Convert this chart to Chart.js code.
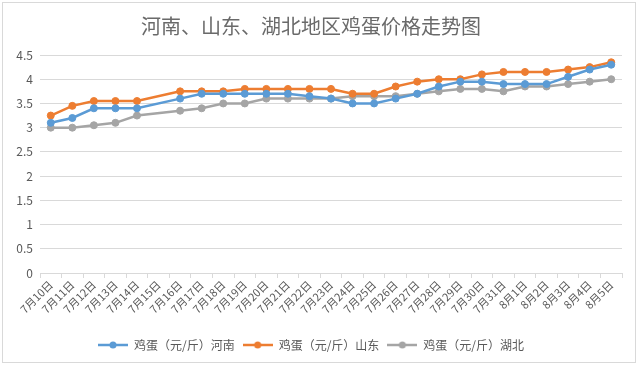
<!DOCTYPE html>
<html>
<head>
<meta charset="utf-8">
<script src="https://cdn.jsdelivr.net/npm/chart.js@4"></script>
<style>
  html, body { margin: 0; padding: 0; background: #fff; }
  #wrap { width: 640px; height: 367px; position: relative; }
</style>
</head>
<body>
<div id="wrap"><canvas id="eggChart" width="640" height="367"></canvas></div>
<script>
// 日期（7月15日无数据）
const days = ['7月10日', '7月11日', '7月12日', '7月13日', '7月14日', '7月15日', '7月16日', '7月17日', '7月18日',
    '7月19日', '7月20日', '7月21日', '7月22日', '7月23日', '7月24日', '7月25日', '7月26日', '7月27日', '7月28日',
    '7月29日', '7月30日', '7月31日', '8月1日', '8月2日', '8月3日', '8月4日', '8月5日'];

const henan = [3.1, 3.2, 3.4, 3.4, 3.4, null, 3.6, 3.7, 3.7, 3.7, 3.7, 3.7, 3.65, 3.6, 3.5, 3.5, 3.6, 3.7, 3.85,
    3.95, 3.95, 3.9, 3.9, 3.9, 4.05, 4.2, 4.3];
const shandong = [3.25, 3.45, 3.55, 3.55, 3.55, null, 3.75, 3.75, 3.75, 3.8, 3.8, 3.8, 3.8, 3.8, 3.7, 3.7, 3.85, 3.95, 4.0,
    4.0, 4.1, 4.15, 4.15, 4.15, 4.2, 4.25, 4.35];
const hubei = [3.0, 3.0, 3.05, 3.1, 3.25, null, 3.35, 3.4, 3.5, 3.5, 3.6, 3.6, 3.6, 3.6, 3.65, 3.65, 3.65, 3.7, 3.75,
    3.8, 3.8, 3.75, 3.85, 3.85, 3.9, 3.95, 4.0];

const seriesNames = ['鸡蛋（元/斤）河南', '鸡蛋（元/斤）山东', '鸡蛋（元/斤）湖北'];
const seriesColors = ['#5B9BD5', '#ED7D31', '#A5A5A5'];

const FONT = '"Noto Sans CJK SC", "Noto Sans", sans-serif';
const TEXT = '#595959';

// legend marker: short line with a dot, like Excel
function legendMarker(color) {
    const c = document.createElement('canvas');
    c.width = 30; c.height = 10;
    const g = c.getContext('2d');
    g.strokeStyle = color;
    g.lineWidth = 2.5;
    g.beginPath(); g.moveTo(0, 5); g.lineTo(30, 5); g.stroke();
    g.fillStyle = color;
    g.beginPath(); g.arc(15, 5, 3.5, 0, Math.PI * 2); g.fill();
    return c;
}

const frame = {
    id: 'frame',
    beforeDraw(chart) {
        const ctx = chart.ctx;
        ctx.save();
        ctx.fillStyle = '#fff';
        ctx.fillRect(0, 0, chart.width, chart.height);
        ctx.strokeStyle = '#D9D9D9';
        ctx.lineWidth = 1;
        ctx.strokeRect(2.5, 2.5, 633, 360);
        ctx.restore();
    }
};

function makeSet(i, values) {
    return {
        label: seriesNames[i],
        data: values,
        borderColor: seriesColors[i],
        backgroundColor: seriesColors[i],
        borderWidth: 2.5,
        pointRadius: 3.5,
        pointHoverRadius: 3.5,
        pointBorderWidth: 1,
        spanGaps: true,
        tension: 0
    };
}

new Chart(document.getElementById('eggChart'), {
    type: 'line',
    data: {
        labels: days,
        datasets: [makeSet(0, henan), makeSet(1, shandong), makeSet(2, hubei)]
    },
    options: {
        responsive: false,
        animation: false,
        layout: { padding: { left: 0, right: 18, top: 0, bottom: 6 } },
        plugins: {
            title: {
                display: true,
                text: '河南、山东、湖北地区鸡蛋价格走势图',
                color: '#6a6a6a',
                font: { family: FONT, size: 20, weight: 'normal' },
                padding: { top: 14, bottom: 17 }
            },
            legend: {
                position: 'bottom',
                labels: {
                    color: TEXT,
                    font: { family: FONT, size: 12 },
                    usePointStyle: true,
                    pointStyleWidth: 30,
                    padding: 8,
                    generateLabels(chart) {
                        return chart.data.datasets.map((ds, i) => ({
                            text: ds.label,
                            fontColor: TEXT,
                            pointStyle: legendMarker(seriesColors[i]),
                            strokeStyle: seriesColors[i],
                            fillStyle: seriesColors[i],
                            lineWidth: 0,
                            datasetIndex: i
                        }));
                    }
                }
            },
            tooltip: { enabled: false }
        },
        scales: {
            x: {
                offset: true,
                grid: {
                    display: true,
                    drawOnChartArea: false,
                    drawTicks: true,
                    tickLength: 5,
                    offset: true,
                    color: '#D9D9D9'
                },
                border: { display: true, color: '#D9D9D9' },
                ticks: {
                    color: TEXT,
                    font: { family: FONT, size: 11 },
                    maxRotation: 45,
                    minRotation: 45,
                    autoSkip: false,
                    padding: 0
                },
                afterFit(scale) { scale.height = 58; }
            },
            y: {
                min: 0,
                max: 4.5,
                ticks: {
                    stepSize: 0.5,
                    color: TEXT,
                    font: { family: FONT, size: 12 },
                    padding: 7,
                    callback: (v) => String(Number(v.toFixed(1)))
                },
                grid: { color: '#D9D9D9', drawTicks: false },
                border: { display: false },
                afterFit(scale) { scale.width = 40; }
            }
        }
    },
    plugins: [frame]
});
</script>
</body>
</html>
